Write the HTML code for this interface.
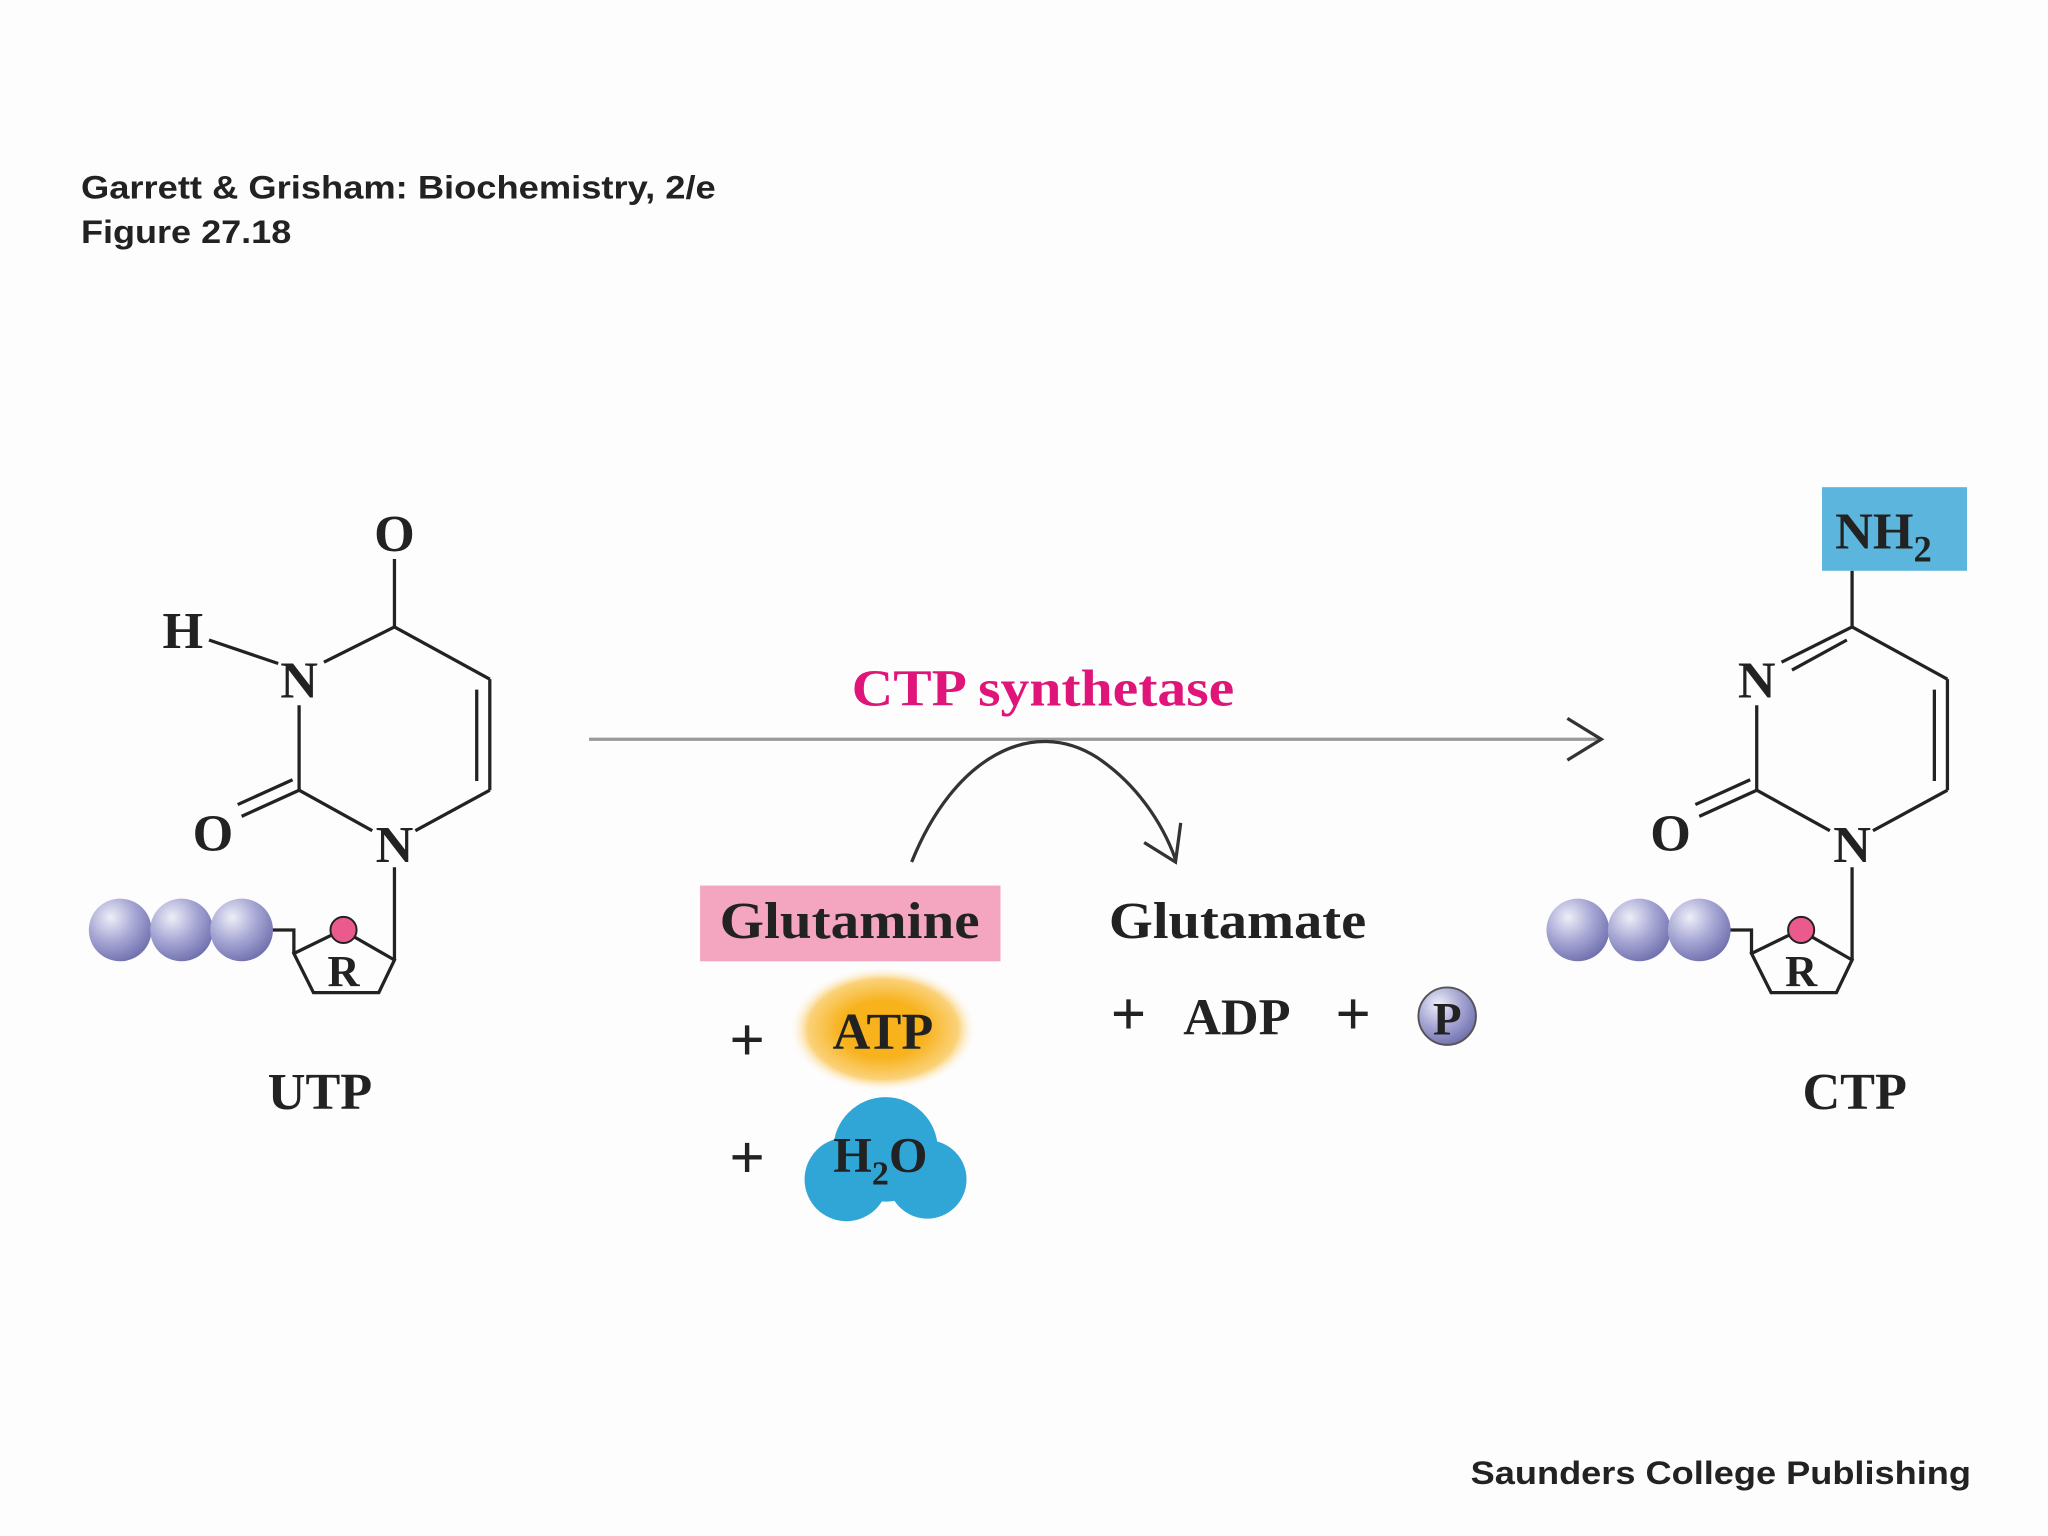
<!DOCTYPE html>
<html><head><meta charset="utf-8"><style>
html,body{margin:0;padding:0;background:#fdfdfd;}
svg{display:block;}
.s{font-family:"Liberation Serif",serif;font-weight:bold;}
.a{font-family:"Liberation Sans",sans-serif;font-weight:bold;fill:#222;}
</style></head><body>
<svg width="2048" height="1536" viewBox="0 0 1568 1176" xmlns="http://www.w3.org/2000/svg">
<defs>
<radialGradient id="sp" cx="0.35" cy="0.3" r="0.75"><stop offset="0" stop-color="#eeeef8"/><stop offset="0.5" stop-color="#a9a9d6"/><stop offset="1" stop-color="#6f6fae"/></radialGradient>
<radialGradient id="atp" cx="0.5" cy="0.5" r="0.5"><stop offset="0.45" stop-color="#f7b21c"/><stop offset="0.8" stop-color="#fbd27a"/><stop offset="1" stop-color="#fdfdfd" stop-opacity="0"/></radialGradient>
<g id="mol" stroke="#222" stroke-width="2.5" fill="none">
<line x1="229" y1="540" x2="229" y2="605"/>
<line x1="248" y1="507" x2="302" y2="480"/>
<line x1="302" y1="480" x2="375" y2="520"/>
<line x1="375" y1="520" x2="375" y2="605"/>
<line x1="365" y1="528" x2="365" y2="598"/>
<line x1="375" y1="605" x2="318" y2="636"/>
<line x1="285" y1="636" x2="229" y2="605"/>
<line x1="229" y1="605" x2="185" y2="625"/>
<line x1="224" y1="597" x2="182" y2="616"/>
<line x1="302" y1="664" x2="302" y2="735"/>
<polygon points="225,730 262,712 302,735 290,760 240,760"/>
<polyline points="205,712 225,712 225,730"/>
</g>
<g id="phos">
<circle cx="92" cy="712" r="24" fill="url(#sp)"/>
<circle cx="139" cy="712" r="24" fill="url(#sp)"/>
<circle cx="185" cy="712" r="24" fill="url(#sp)"/>
<circle cx="263" cy="712" r="10" fill="#ea5a8c" stroke="#222" stroke-width="1.5"/>
</g>
</defs>
<text class="a" x="62" y="152" font-size="25" textLength="486" lengthAdjust="spacingAndGlyphs">Garrett &amp; Grisham: Biochemistry, 2/e</text>
<text class="a" x="62" y="186" font-size="25" textLength="161" lengthAdjust="spacingAndGlyphs">Figure 27.18</text>
<text class="a" x="1126" y="1136" font-size="25" textLength="383" lengthAdjust="spacingAndGlyphs">Saunders College Publishing</text>

<!-- UTP -->
<use href="#mol"/>
<g stroke="#222" stroke-width="2.5"><line x1="302" y1="480" x2="302" y2="428"/><line x1="160" y1="490" x2="213" y2="508"/></g>
<use href="#phos"/>
<g class="s" font-size="40" fill="#222" text-anchor="middle">
<text x="302" y="422">O</text><text x="140" y="496">H</text><text x="229" y="534">N</text>
<text x="163" y="651">O</text><text x="302" y="660">N</text>
<text x="263" y="755" font-size="34">R</text>
<text x="245" y="849">UTP</text>
</g>

<!-- CTP -->
<g transform="translate(1116,0)"><use href="#mol"/><use href="#phos"/>
<g stroke="#222" stroke-width="2.5"><line x1="302" y1="480" x2="302" y2="437"/><line x1="256" y1="513" x2="298" y2="490"/></g>
<g class="s" font-size="40" fill="#222" text-anchor="middle">
<text x="229" y="534">N</text><text x="163" y="651">O</text><text x="302" y="660">N</text>
<text x="263" y="755" font-size="34">R</text><text x="304" y="849">CTP</text></g>
</g>
<rect x="1395" y="373" width="111" height="64" fill="#5bb5dd"/>
<text class="s" x="1405" y="420" font-size="40" fill="#222">NH<tspan font-size="28" dy="10">2</tspan></text>

<!-- arrow -->
<g stroke="#333" stroke-width="2.5" fill="none">
<line x1="451" y1="566" x2="1225" y2="566" stroke="#999"/>
<polyline points="1200,550 1226,566 1200,582"/>
<path d="M698,660 C730,580 790,548 840,580 C870,600 890,630 900,658"/>
<polyline points="876,645 900,660 904,630"/>
</g>
<text class="s" x="652" y="540" font-size="40" fill="#e0157a" textLength="293" lengthAdjust="spacingAndGlyphs">CTP synthetase</text>

<rect x="536" y="678" width="230" height="58" fill="#f4a6c0"/>
<g class="s" font-size="40" fill="#222">
<text x="551" y="718" textLength="199" lengthAdjust="spacingAndGlyphs">Glutamine</text>
<text x="849" y="718" textLength="197" lengthAdjust="spacingAndGlyphs">Glutamate</text>
<text x="864" y="792" text-anchor="middle" font-size="48">+</text>
<text x="947" y="792" text-anchor="middle">ADP</text>
<text x="1036" y="792" text-anchor="middle" font-size="48">+</text>
<text x="572" y="812" text-anchor="middle" font-size="48">+</text>
<text x="572" y="902" text-anchor="middle" font-size="48">+</text>
</g>
<circle cx="1108" cy="778" r="22" fill="url(#sp)" stroke="#555" stroke-width="1.5"/>
<text class="s" x="1108" y="792" font-size="36" fill="#222" text-anchor="middle">P</text>
<ellipse cx="676" cy="788" rx="72" ry="48" fill="url(#atp)"/>
<text class="s" x="676" y="803" font-size="40" fill="#222" text-anchor="middle">ATP</text>
<g fill="#2fa6d6"><circle cx="678" cy="880" r="40"/><circle cx="648" cy="903" r="32"/><circle cx="710" cy="903" r="30"/></g>
<text class="s" x="638" y="897" font-size="38" fill="#222">H<tspan font-size="26" dy="10">2</tspan><tspan dy="-10">O</tspan></text>
</svg>
</body></html>
